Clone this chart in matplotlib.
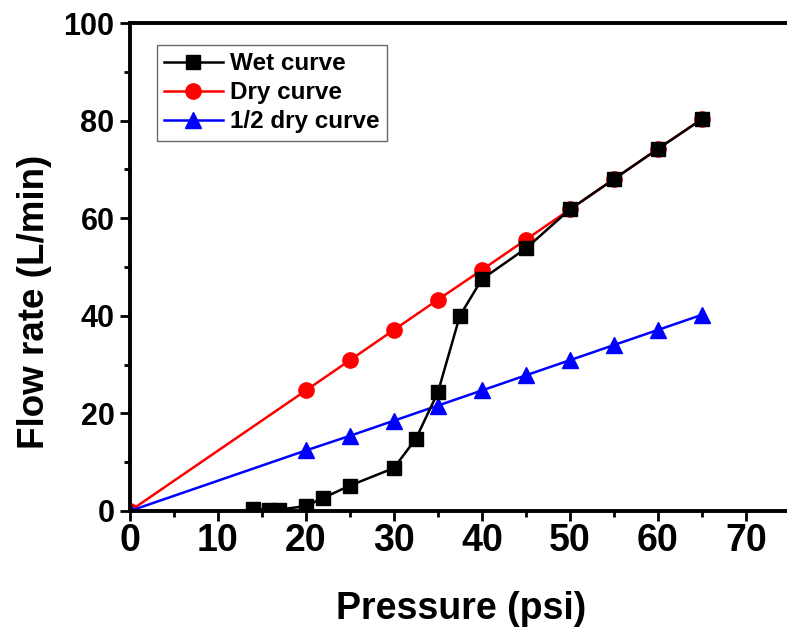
import numpy as np
import matplotlib.pyplot as plt
from matplotlib.ticker import MultipleLocator

plt.rcParams['font.family'] = ['Liberation Sans', 'DejaVu Sans']
plt.rcParams['font.weight'] = 'bold'

# Dados
pressao_umida = [14, 15.8, 17, 20, 22, 25, 30, 32.5, 35, 37.5, 40, 45, 50, 55, 60, 65]
vazao_umida = [0.4, 0.3, 0.3, 1.0, 2.7, 5.2, 8.8, 14.8, 24.3, 40.0, 47.5, 53.8, 61.8, 68.0, 74.2, 80.3]

pressao_seca = [0, 20, 25, 30, 35, 40, 45, 50, 55, 60, 65]
vazao_seca = [0, 24.7, 30.9, 37.1, 43.3, 49.4, 55.6, 61.8, 68.0, 74.2, 80.3]
vazao_meia_seca = [0, 12.4, 15.4, 18.5, 21.6, 24.7, 27.8, 30.9, 34.0, 37.1, 40.2]

fig = plt.figure(figsize=(7.87, 6.29), dpi=100)
ax = fig.add_axes([0.165, 0.1876, 0.842, 0.7758])

ax.plot(pressao_umida, vazao_umida, color='black', marker='s', markersize=10,
        linewidth=1.8, label='Wet curve', zorder=3)
ax.plot(pressao_seca, vazao_seca, color='red', marker='o', markersize=11,
        linewidth=1.8, label='Dry curve', zorder=2)
ax.plot(pressao_seca, vazao_meia_seca, color='blue', marker='^', markersize=12,
        linewidth=1.8, label='1/2 dry curve', zorder=2)

ax.set_xlim(0, 75.3)
ax.set_ylim(0, 100)
ax.xaxis.set_major_locator(MultipleLocator(10))
ax.xaxis.set_minor_locator(MultipleLocator(5))
ax.yaxis.set_major_locator(MultipleLocator(20))
ax.yaxis.set_minor_locator(MultipleLocator(10))
ax.set_xticks([0, 10, 20, 30, 40, 50, 60, 70])

for lado in ax.spines.values():
    lado.set_linewidth(2.8)
    lado.set_zorder(4)

ax.tick_params(which='major', direction='out', length=7, width=2)
ax.tick_params(which='minor', direction='out', length=4, width=2)
ax.tick_params(axis='x', which='major', labelsize=27, pad=2)
ax.tick_params(axis='y', which='major', labelsize=22, pad=4)
for rotulo in ax.get_xticklabels() + ax.get_yticklabels():
    rotulo.set_fontweight('bold')

ax.set_xlabel('Pressure (psi)', fontsize=27, fontweight='bold', va='top')
ax.xaxis.set_label_coords(0.5, -0.164)
ax.set_ylabel('Flow rate (L/min)', fontsize=26.5, fontweight='bold')
ax.yaxis.set_label_coords(-0.118, 0.428)

leg = ax.legend(loc='upper left', bbox_to_anchor=(0.041, 0.955),
                prop={'weight': 'bold', 'size': 17.5}, frameon=True, fancybox=False,
                edgecolor='#444444', handlelength=2.4, handletextpad=0.3,
                borderpad=0.3, labelspacing=0.25, borderaxespad=0)
leg.get_frame().set_linewidth(1.0)

fig.savefig('out.png', dpi=100)
